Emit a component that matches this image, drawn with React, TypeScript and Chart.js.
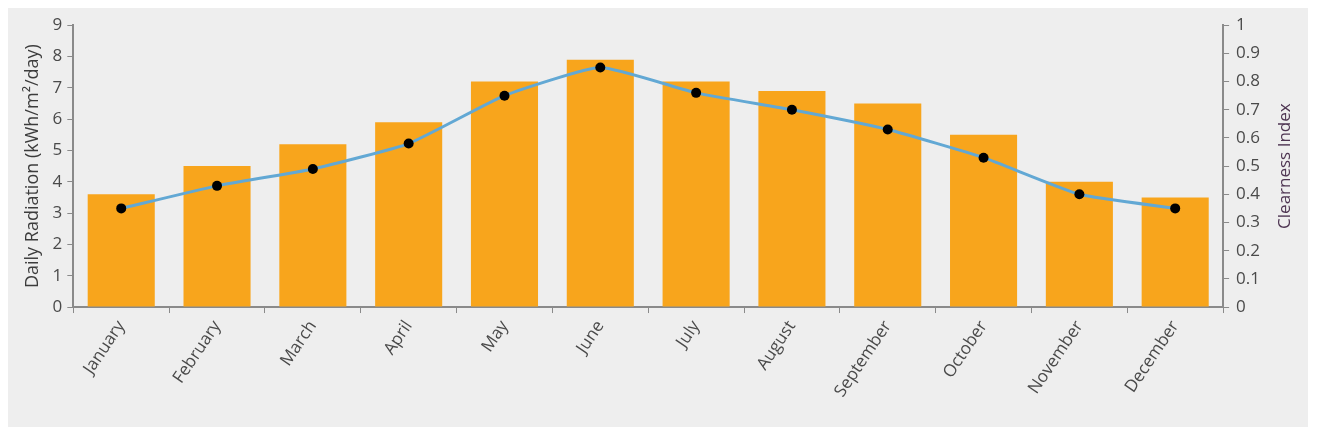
import React, { useEffect, useRef } from "react";
import { Chart, registerables } from "chart.js";

Chart.register(...registerables);

const months = ["January", "February", "March", "April", "May", "June", "July", "August", "September", "October", "November", "December"];
const dailyRadiation = [3.6, 4.5, 5.2, 5.9, 7.2, 7.9, 7.2, 6.9, 6.5, 5.5, 4.0, 3.5];
const clearnessIndex = [0.35, 0.43, 0.49, 0.58, 0.75, 0.85, 0.76, 0.70, 0.63, 0.53, 0.40, 0.35];
const rightTitle = "Clearness Index";

const FONT = "'Open Sans', 'Noto Sans', sans-serif";
const TEXT = "#4a4a4a";
const AXIS = "#8a8a8a";

const rightTitlePlugin = {
  id: "rightTitle",
  afterDraw(chart: any) {
    const { ctx, chartArea } = chart;
    ctx.save();
    ctx.translate(chartArea.right + 62, (chartArea.top + chartArea.bottom) / 2);
    ctx.rotate(-Math.PI / 2);
    ctx.font = `17px ${FONT}`;
    ctx.fillStyle = "#4e3552";
    ctx.textAlign = "center";
    ctx.textBaseline = "middle";
    ctx.fillText(rightTitle, 0, 0);
    ctx.restore();
  },
};

export default function App() {
  const ref = useRef<HTMLCanvasElement>(null);
  useEffect(() => {
    if (!ref.current) return;
    const chart = new Chart(ref.current, {
      type: "bar",
      data: {
        labels: months,
        datasets: [
          {
            type: "line",
            label: "Clearness Index",
            data: clearnessIndex,
            yAxisID: "y1",
            borderColor: "#62a8d4",
            borderWidth: 3,
            pointRadius: 5,
            pointBackgroundColor: "#000",
            pointBorderColor: "#000",
            pointBorderWidth: 0,
            tension: 0.15,
            order: 0,
          },
          {
            type: "bar",
            label: "Daily Radiation",
            data: dailyRadiation,
            yAxisID: "y",
            backgroundColor: "#f8a51c",
            categoryPercentage: 0.7,
            barPercentage: 1,
            order: 1,
          },
        ],
      },
      options: {
        animation: false,
        responsive: true,
        maintainAspectRatio: false,
        layout: { padding: { left: 10, right: 41, top: 17, bottom: 22 } },
        plugins: { legend: { display: false }, tooltip: { enabled: false } },
        scales: {
          x: {
            offset: true,
            grid: { display: true, offset: true, drawOnChartArea: false, color: AXIS, tickLength: 6 },
            border: { color: AXIS, width: 2 },
            ticks: { color: TEXT, font: { family: FONT, size: 17 }, minRotation: 56, maxRotation: 56, padding: 4 },
          },
          y: {
            position: "left",
            min: 0,
            max: 9,
            grid: { drawOnChartArea: false, color: AXIS, tickLength: 6 },
            border: { color: AXIS, width: 2 },
            ticks: { stepSize: 1, color: TEXT, font: { family: FONT, size: 17 }, padding: 5 },
            title: { display: true, text: "Daily Radiation (kWh/m²/day)", color: "#3c3c3c", font: { family: FONT, size: 18 }, padding: 4 },
          },
          y1: {
            position: "right",
            min: 0,
            max: 1,
            grid: { drawOnChartArea: false, color: AXIS, tickLength: 6 },
            border: { color: AXIS, width: 2 },
            ticks: {
              stepSize: 0.1,
              color: TEXT,
              font: { family: FONT, size: 17 },
              padding: 7,
              callback: (v: any) => String(Math.round(Number(v) * 10) / 10),
            },
          },
        },
      },
      plugins: [rightTitlePlugin],
    });
    return () => chart.destroy();
  }, []);
  return (
    <div style={{ width: 1300, height: 419, background: "#eeeeee", position: "relative" }}>
      <canvas ref={ref} />
    </div>
  );
}
